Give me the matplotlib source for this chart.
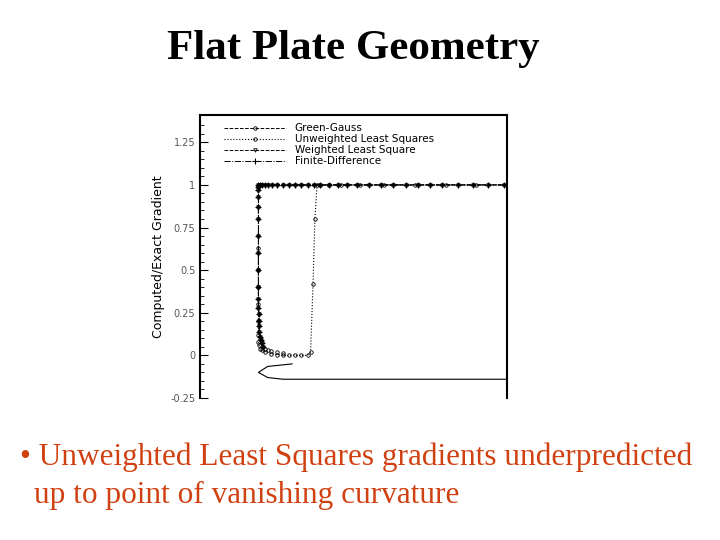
import matplotlib

matplotlib.use("Agg")
import matplotlib.pyplot as plt

# near-wall profile (x ~ wall), shared by Green-Gauss / weighted LSQ / finite difference
wall_y = [0.05, 0.07, 0.09, 0.11, 0.14, 0.17, 0.2, 0.24, 0.28, 0.33, 0.4, 0.5, 0.6, 0.7, 0.8, 0.87, 0.93, 0.97, 0.99]
wall_x = [0.205, 0.2, 0.197, 0.195, 0.193, 0.192, 0.191, 0.191, 0.19, 0.19, 0.19, 0.19, 0.19, 0.19, 0.19, 0.19, 0.19, 0.19, 0.19]
outer_x = [0.19, 0.195, 0.2, 0.21, 0.22, 0.235, 0.25, 0.27, 0.29, 0.31, 0.33, 0.35, 0.37, 0.39, 0.42, 0.45,
           0.48, 0.51, 0.55, 0.59, 0.63, 0.67, 0.71, 0.75, 0.79, 0.84, 0.89, 0.94, 0.99]
tail_x = [0.21, 0.22, 0.23, 0.25, 0.27]
tail_y = [0.04, 0.03, 0.025, 0.02, 0.015]

# unweighted least squares
uls_x = [0.19, 0.19, 0.19, 0.19, 0.19, 0.19, 0.19, 0.192, 0.195, 0.2, 0.21, 0.23, 0.25, 0.27, 0.29, 0.31,
         0.33, 0.35, 0.36, 0.368, 0.374, 0.381, 0.39, 0.42, 0.46, 0.52, 0.6, 0.7, 0.8, 0.9, 1.0]
uls_y = [0.63, 0.5, 0.4, 0.3, 0.2, 0.12, 0.08, 0.06, 0.04, 0.03, 0.02, 0.01, 0.005, 0.0, 0.0, 0.0,
         0.0, 0.0, 0.02, 0.42, 0.8, 1.0, 1.0, 1.0, 1.0, 1.0, 1.0, 1.0, 1.0, 1.0, 1.0]

# plate geometry outline
geom_x = [0.3, 0.22, 0.19, 0.22, 0.27, 1.0]
geom_y = [-0.05, -0.065, -0.1, -0.13, -0.14, -0.14]

fig = plt.figure(figsize=(7.2, 5.4), dpi=100)
ax = fig.add_axes([0.278, 0.263, 0.426, 0.524])

prof_x = wall_x + outer_x
prof_y = wall_y + [1.0] * len(outer_x)
ax.plot(prof_x, prof_y, "k--", lw=0.7, marker="o", ms=2.5, mfc="none", mew=0.6, label="Green-Gauss")
ax.plot(uls_x, uls_y, "k:", lw=0.8, marker="o", ms=2.5, mfc="none", mew=0.6, label="Unweighted Least Squares")
ax.plot(prof_x, prof_y, "k--", lw=0.7, marker="v", ms=2.5, mfc="none", mew=0.6, label="Weighted Least Square")
ax.plot(prof_x, prof_y, "k-.", lw=0.7, marker="+", ms=4, mew=0.8, label="Finite-Difference")
ax.plot(tail_x, tail_y, "ko", ms=2.5, mfc="none", mew=0.6)
ax.plot(geom_x, geom_y, "k-", lw=0.8)

ax.set_xlim(0, 1.0)
ax.set_ylim(-0.25, 1.41)
ax.set_yticks([-0.25, 0, 0.25, 0.5, 0.75, 1, 1.25])
ax.set_yticklabels(["-0.25", "0", "0.25", "0.5", "0.75", "1", "1.25"])
ax.set_yticks([i * 0.05 - 0.25 for i in range(33)], minor=True)
ax.tick_params(axis="y", direction="in", labelsize=7, length=6, color="black", labelcolor="#555555")
ax.tick_params(axis="y", which="minor", direction="in", length=3)
ax.set_xticks([])
ax.spines["bottom"].set_visible(False)
for s in ["left", "right", "top"]:
    ax.spines[s].set_linewidth(1.5)
ax.set_ylabel("Computed/Exact Gradient", fontsize=9)
ax.legend(loc="upper left", bbox_to_anchor=(0.05, 1.0), frameon=False, fontsize=7.5, handlelength=6,
          labelspacing=0.1, borderpad=0.3)

fig.text(0.49, 0.91, "Flat Plate Geometry", ha="center", va="center", fontsize=31, fontweight="bold",
         family="Liberation Serif")
fig.text(0.028, 0.153, "\u2022 Unweighted Least Squares gradients underpredicted", ha="left", va="center",
         fontsize=22.5, color="#d04010", family="Liberation Serif")
fig.text(0.047, 0.083, "up to point of vanishing curvature", ha="left", va="center",
         fontsize=22.5, color="#d04010", family="Liberation Serif")

fig.savefig("out.png", dpi=100)
